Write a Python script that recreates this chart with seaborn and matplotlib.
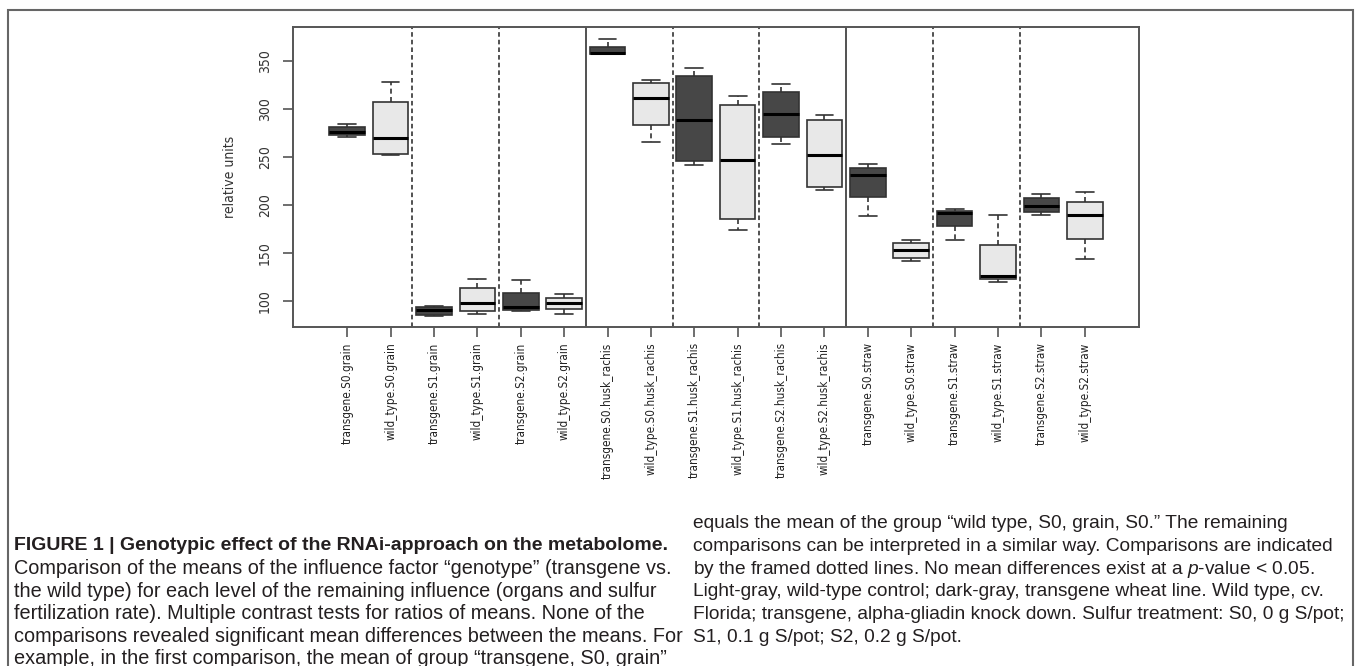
import matplotlib
matplotlib.use('Agg')
from matplotlib import pyplot as plt
from matplotlib.patches import Rectangle
import seaborn as sns
import pandas as pd

# group labels, in plot order
groups = ['transgene.S0.grain', 'wild_type.S0.grain',
          'transgene.S1.grain', 'wild_type.S1.grain',
          'transgene.S2.grain', 'wild_type.S2.grain',
          'transgene.S0.husk_rachis', 'wild_type.S0.husk_rachis',
          'transgene.S1.husk_rachis', 'wild_type.S1.husk_rachis',
          'transgene.S2.husk_rachis', 'wild_type.S2.husk_rachis',
          'transgene.S0.straw', 'wild_type.S0.straw',
          'transgene.S1.straw', 'wild_type.S1.straw',
          'transgene.S2.straw', 'wild_type.S2.straw']

# five values per group: min, Q1, median, Q3, max
values = [
    [271, 273.5, 276.5, 281, 284.5],
    [252.5, 253, 270, 307, 328],
    [84, 85, 90.5, 94, 95],
    [87, 89.5, 98.5, 114, 123],
    [90, 90.5, 93.5, 108, 121.5],
    [87, 92, 98, 103, 107.5],
    [357, 357.5, 358.5, 365, 373],
    [266, 283, 312, 327, 330.5],
    [241.5, 245.5, 288.5, 334.5, 342.5],
    [174, 186, 247, 304.5, 313.5],
    [263.5, 271, 295, 318, 326.5],
    [215.5, 219, 252.5, 289, 293.5],
    [189, 208.5, 231, 239, 243],
    [142, 144.5, 153, 161, 163.5],
    [163.5, 178.5, 192, 194, 195.5],
    [120, 123.5, 126, 158, 190],
    [190, 192.5, 199, 207, 212],
    [144, 165, 190, 203, 213.5],
]

yticks = [100, 150, 200, 250, 300, 350]

caption_title = 'FIGURE 1 | Genotypic effect of the RNAi-approach on the metabolome.'
caption_left = [
    'Comparison of the means of the influence factor \u201cgenotype\u201d (transgene vs.',
    'the wild type) for each level of the remaining influence (organs and sulfur',
    'fertilization rate). Multiple contrast tests for ratios of means. None of the',
    'comparisons revealed significant mean differences between the means. For',
    'example, in the first comparison, the mean of group \u201ctransgene, S0, grain\u201d',
]
caption_right = [
    'equals the mean of the group \u201cwild type, S0, grain, S0.\u201d The remaining',
    'comparisons can be interpreted in a similar way. Comparisons are indicated',
    'by the framed dotted lines. No mean differences exist at a $\\mathit{p}$-value < 0.05.',
    'Light-gray, wild-type control; dark-gray, transgene wheat line. Wild type, cv.',
    'Florida; transgene, alpha-gliadin knock down. Sulfur treatment: S0, 0 g S/pot;',
    'S1, 0.1 g S/pot; S2, 0.2 g S/pot.',
]

rows = []
for g, vals in zip(groups, values):
    for v in vals:
        rows.append({'group': g, 'genotype': g.split('.')[0], 'value': v})
df = pd.DataFrame(rows)

sns.set_style('white')
plt.rcParams['font.family'] = ['DejaVu Sans']
plt.rcParams['font.stretch'] = 'condensed'
plt.rcParams['mathtext.fontset'] = 'custom'
plt.rcParams['mathtext.it'] = 'Liberation Sans:italic'
plt.rcParams['mathtext.rm'] = 'Liberation Sans'

fig = plt.figure(figsize=(13.55, 6.66), dpi=100)
ax = fig.add_axes([0.2162, 0.509, 0.6244, 0.4505])

sns.boxplot(data=df, x='group', y='value', hue='genotype', order=groups,
            palette={'transgene': '#474747', 'wild_type': '#e8e8e8'},
            dodge=False, whis=(0, 100), width=0.82, linecolor='#333333',
            linewidth=1.2, legend=False, ax=ax,
            medianprops={'color': 'black', 'linewidth': 2.2},
            whiskerprops={'linestyle': (0, (3, 2)), 'color': '#333333'},
            capprops={'color': '#333333'})

# separators between compared pairs; solid between organs
for i in range(1, len(groups) // 2):
    style = '-' if i % 3 == 0 else (0, (3, 2))
    ax.axvline(2 * i - 0.5, color='#222222', linestyle=style, linewidth=1.1)

ax.set_xlim(-1.25, 18.25)
ax.set_ylim(73, 385.5)
ax.set_yticks(yticks)
ax.set_yticklabels([str(t) for t in yticks], rotation=90, va='center', fontsize=10, color='#333333')
ax.set_xticks(range(len(groups)))
ax.set_xticklabels(groups, rotation=90, fontsize=8.4, color='#222222')
ax.tick_params(axis='both', direction='out', length=7, width=1.2, color='#555555',
               bottom=True, left=True)
ax.tick_params(axis='y', pad=8)
ax.tick_params(axis='x', pad=4)
ax.set_xlabel('')
ax.set_ylabel('relative units', fontsize=10, color='#333333', labelpad=15)
for sp in ax.spines.values():
    sp.set_color('#555555')
    sp.set_linewidth(1.4)

# outer figure frame
fig.add_artist(Rectangle((8 / 1355, -0.05), 1345 / 1355, 1.05 - 10 / 666,
                         transform=fig.transFigure, fill=False,
                         edgecolor='#666666', linewidth=1.5, clip_on=False))

cap_font = ['Liberation Sans', 'DejaVu Sans']
line_h = 22.6 / 666
y0 = 1 - 546 / 666
fig.text(14 / 1355, y0, caption_title, family=cap_font, fontsize=14.0,
         fontweight='bold', va='center', color='#231f20', fontstretch='normal')
for k, line in enumerate(caption_left):
    fig.text(14 / 1355, y0 - (k + 1) * line_h, line, family=cap_font,
             fontsize=14.3, va='center', color='#231f20', fontstretch='normal')
y1 = 1 - 524 / 666
for k, line in enumerate(caption_right):
    fig.text(693 / 1355, y1 - k * line_h, line, family=cap_font,
             fontsize=13.8, va='center', color='#231f20', fontstretch='normal')

fig.savefig('out.png', dpi=100)
